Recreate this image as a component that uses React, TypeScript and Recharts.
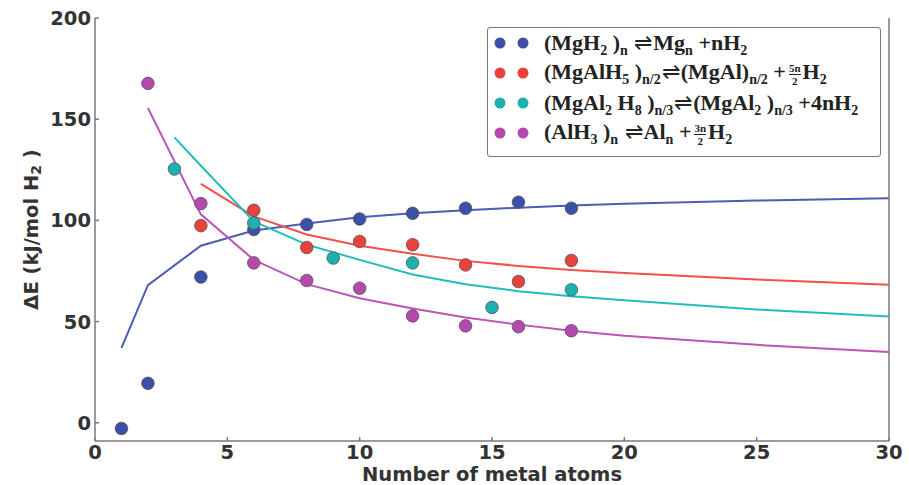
import { ComposedChart, Line, Scatter, XAxis, YAxis, Legend, Label } from "recharts";

const xTicks = [0, 5, 10, 15, 20, 25, 30];
const yTicks = [0, 50, 100, 150, 200];

// computed points (dots)
const mgh2Points = [
  { n: 1, e: -2.8 }, { n: 2, e: 19.5 }, { n: 4, e: 72 }, { n: 6, e: 95.5 }, { n: 8, e: 98 },
  { n: 10, e: 100.7 }, { n: 12, e: 103.5 }, { n: 14, e: 106 }, { n: 16, e: 109 }, { n: 18, e: 106 },
];
const mgalh5Points = [
  { n: 4, e: 97.4 }, { n: 6, e: 105 }, { n: 8, e: 86.6 }, { n: 10, e: 89.6 },
  { n: 12, e: 88 }, { n: 14, e: 78 }, { n: 16, e: 69.8 }, { n: 18, e: 80.2 },
];
const mgal2h8Points = [
  { n: 3, e: 125.4 }, { n: 6, e: 98.7 }, { n: 9, e: 81.4 }, { n: 12, e: 79 }, { n: 15, e: 57 }, { n: 18, e: 65.7 },
];
const alh3Points = [
  { n: 2, e: 167.7 }, { n: 4, e: 108.3 }, { n: 6, e: 79 }, { n: 8, e: 70.3 }, { n: 10, e: 66.5 },
  { n: 12, e: 52.8 }, { n: 14, e: 47.9 }, { n: 16, e: 47.5 }, { n: 18, e: 45.5 },
];

// fitted curves
const mgh2Fit = [
  { n: 1, e: 37 }, { n: 2, e: 68 }, { n: 4, e: 87.5 }, { n: 6, e: 95 }, { n: 8, e: 98.5 },
  { n: 10, e: 101.5 }, { n: 12, e: 103.5 }, { n: 14, e: 105 }, { n: 16, e: 106.3 }, { n: 18, e: 107.3 },
  { n: 20, e: 108.2 }, { n: 25, e: 109.8 }, { n: 30, e: 111 },
];
const mgalh5Fit = [
  { n: 4, e: 118 }, { n: 6, e: 102 }, { n: 8, e: 93 }, { n: 10, e: 87.5 }, { n: 12, e: 83.5 },
  { n: 14, e: 80 }, { n: 16, e: 77.5 }, { n: 18, e: 75.5 }, { n: 20, e: 74 }, { n: 25, e: 70.8 }, { n: 30, e: 68.2 },
];
const mgal2h8Fit = [
  { n: 3, e: 141 }, { n: 4, e: 127 }, { n: 6, e: 99.5 }, { n: 8, e: 88 }, { n: 10, e: 80.5 },
  { n: 12, e: 73.3 }, { n: 14, e: 68.5 }, { n: 16, e: 65 }, { n: 18, e: 62.5 }, { n: 20, e: 60.5 },
  { n: 25, e: 56 }, { n: 30, e: 52.5 },
];
const alh3Fit = [
  { n: 2, e: 155.5 }, { n: 4, e: 103 }, { n: 6, e: 80.5 }, { n: 8, e: 68.5 }, { n: 10, e: 61.5 },
  { n: 12, e: 56.5 }, { n: 14, e: 52 }, { n: 16, e: 48.5 }, { n: 18, e: 45.5 }, { n: 20, e: 43 },
  { n: 25, e: 38.5 }, { n: 30, e: 35 },
];

const frac = (num: string, den: string) => (
  <span style={{ display: "inline-flex", flexDirection: "column", fontSize: 11, lineHeight: "12px", verticalAlign: "middle", textAlign: "center", margin: "0 2px 0 3px" }}>
    <span style={{ borderBottom: "1px solid #222" }}>{num}</span>
    <span>{den}</span>
  </span>
);
const sub = (t: string) => <sub style={{ fontSize: 14, lineHeight: 0 }}>{t}</sub>;
const eq = <span style={{ fontWeight: "normal", margin: "0 1px" }}>⇌</span>;

const series = [
  {
    name: "mgh2", dot: "#3b50a6", line: "#4d5cb4", points: mgh2Points, fit: mgh2Fit,
    label: <>(MgH{sub("2")} ){sub("n")} {eq}Mg{sub("n")} +nH{sub("2")}</>,
  },
  {
    name: "mgalh5", dot: "#e8423b", line: "#f0514a", points: mgalh5Points, fit: mgalh5Fit,
    label: <>(MgAlH{sub("5")} ){sub("n/2")}{eq}(MgAl){sub("n/2")} +{frac("5n", "2")}H{sub("2")}</>,
  },
  {
    name: "mgal2h8", dot: "#1cb0ae", line: "#22bcbc", points: mgal2h8Points, fit: mgal2h8Fit,
    label: <>(MgAl{sub("2")} H{sub("8")} ){sub("n/3")}{eq}(MgAl{sub("2")} ){sub("n/3")} +4nH{sub("2")}</>,
  },
  {
    name: "alh3", dot: "#b548ac", line: "#bb55b8", points: alh3Points, fit: alh3Fit,
    label: <>(AlH{sub("3")} ){sub("n")} {eq}Al{sub("n")} +{frac("3n", "2")}H{sub("2")}</>,
  },
];

const axisColor = "#7a7a7a";
const tickStyle = { fontFamily: "DejaVu Sans", fontWeight: "bold", fontSize: 19.5, fill: "#333" };
const noTick = () => <g />;

function LegendBox() {
  return (
    <div style={{ border: "1.5px solid #777", borderRadius: 3, background: "#fff", width: 394, height: 130, boxSizing: "border-box", padding: 0, fontFamily: "Liberation Serif", fontWeight: "bold", fontSize: 22, color: "#222" }}>
      {series.map((s) => (
        <div key={s.name} style={{ display: "flex", alignItems: "center", height: 30 }}>
          <svg width={56} height={14} style={{ flex: "none" }}>
            <circle cx={12} cy={7} r={5.5} fill={s.dot} />
            <circle cx={35} cy={7} r={5.5} fill={s.dot} />
          </svg>
          <span style={{ whiteSpace: "nowrap", lineHeight: "26px" }}>{s.label}</span>
        </div>
      ))}
    </div>
  );
}

export default function App() {
  return (
    <div style={{ position: "absolute", left: 0, top: 0, background: "#fff" }}>
      <ComposedChart width={909} height={485} margin={{ top: 18, right: 0, bottom: 0, left: 0 }}>
        <XAxis
          dataKey="n"
          type="number"
          domain={[0, 30]}
          ticks={xTicks}
          height={44}
          stroke={axisColor}
          strokeWidth={1.5}
          tickSize={-4}
          tickMargin={8}
          tick={tickStyle}
          allowDataOverflow
        >
          <Label
            content={(p: any) => (
              <text x={p.viewBox.x + p.viewBox.width / 2} y={p.viewBox.y + 40} textAnchor="middle" style={tickStyle}>
                Number of metal atoms
              </text>
            )}
          />
        </XAxis>
        <XAxis xAxisId="top" orientation="top" type="number" domain={[0, 30]} ticks={xTicks} height={0} stroke={axisColor} strokeWidth={1.5} tickSize={-4} tick={noTick} />
        <YAxis
          type="number"
          domain={[-9, 200]}
          ticks={yTicks}
          width={95}
          stroke={axisColor}
          strokeWidth={1.5}
          tickSize={-4}
          tickMargin={8}
          tick={tickStyle}
          allowDataOverflow
        >
          <Label
            content={(p: any) => {
              const cx = p.viewBox.x + 31;
              const cy = p.viewBox.y + p.viewBox.height / 2;
              return (
                <text x={cx} y={cy} textAnchor="middle" dominantBaseline="central" transform={`rotate(-90 ${cx} ${cy})`} style={tickStyle}>
                  ΔE (kJ/mol H<tspan fontSize={14} dy={5}>2</tspan><tspan dy={-5}> )</tspan>
                </text>
              );
            }}
          />
        </YAxis>
        <YAxis yAxisId="right" orientation="right" type="number" domain={[-9, 200]} ticks={yTicks} width={20} stroke={axisColor} strokeWidth={1.5} tickSize={-4} tick={noTick} />
        {series.map((s) => (
          <Line key={s.name + "-fit"} data={s.fit} dataKey="e" type="linear" stroke={s.line} strokeWidth={2} dot={false} activeDot={false} isAnimationActive={false} legendType="none" />
        ))}
        {series.map((s) => (
          <Scatter
            key={s.name + "-pts"}
            data={s.points}
            dataKey="e"
            fill={s.dot}
            isAnimationActive={false}
            shape={(p: any) => <circle cx={p.cx} cy={p.cy} r={6.3} fill={s.dot} stroke="#555" strokeWidth={0.8} />}
          />
        ))}
        <Legend
          layout="vertical"
          align="center"
          verticalAlign="middle"
          wrapperStyle={{ left: 487, top: 27, width: 394 }}
          content={() => <LegendBox />}
        />
      </ComposedChart>
    </div>
  );
}
